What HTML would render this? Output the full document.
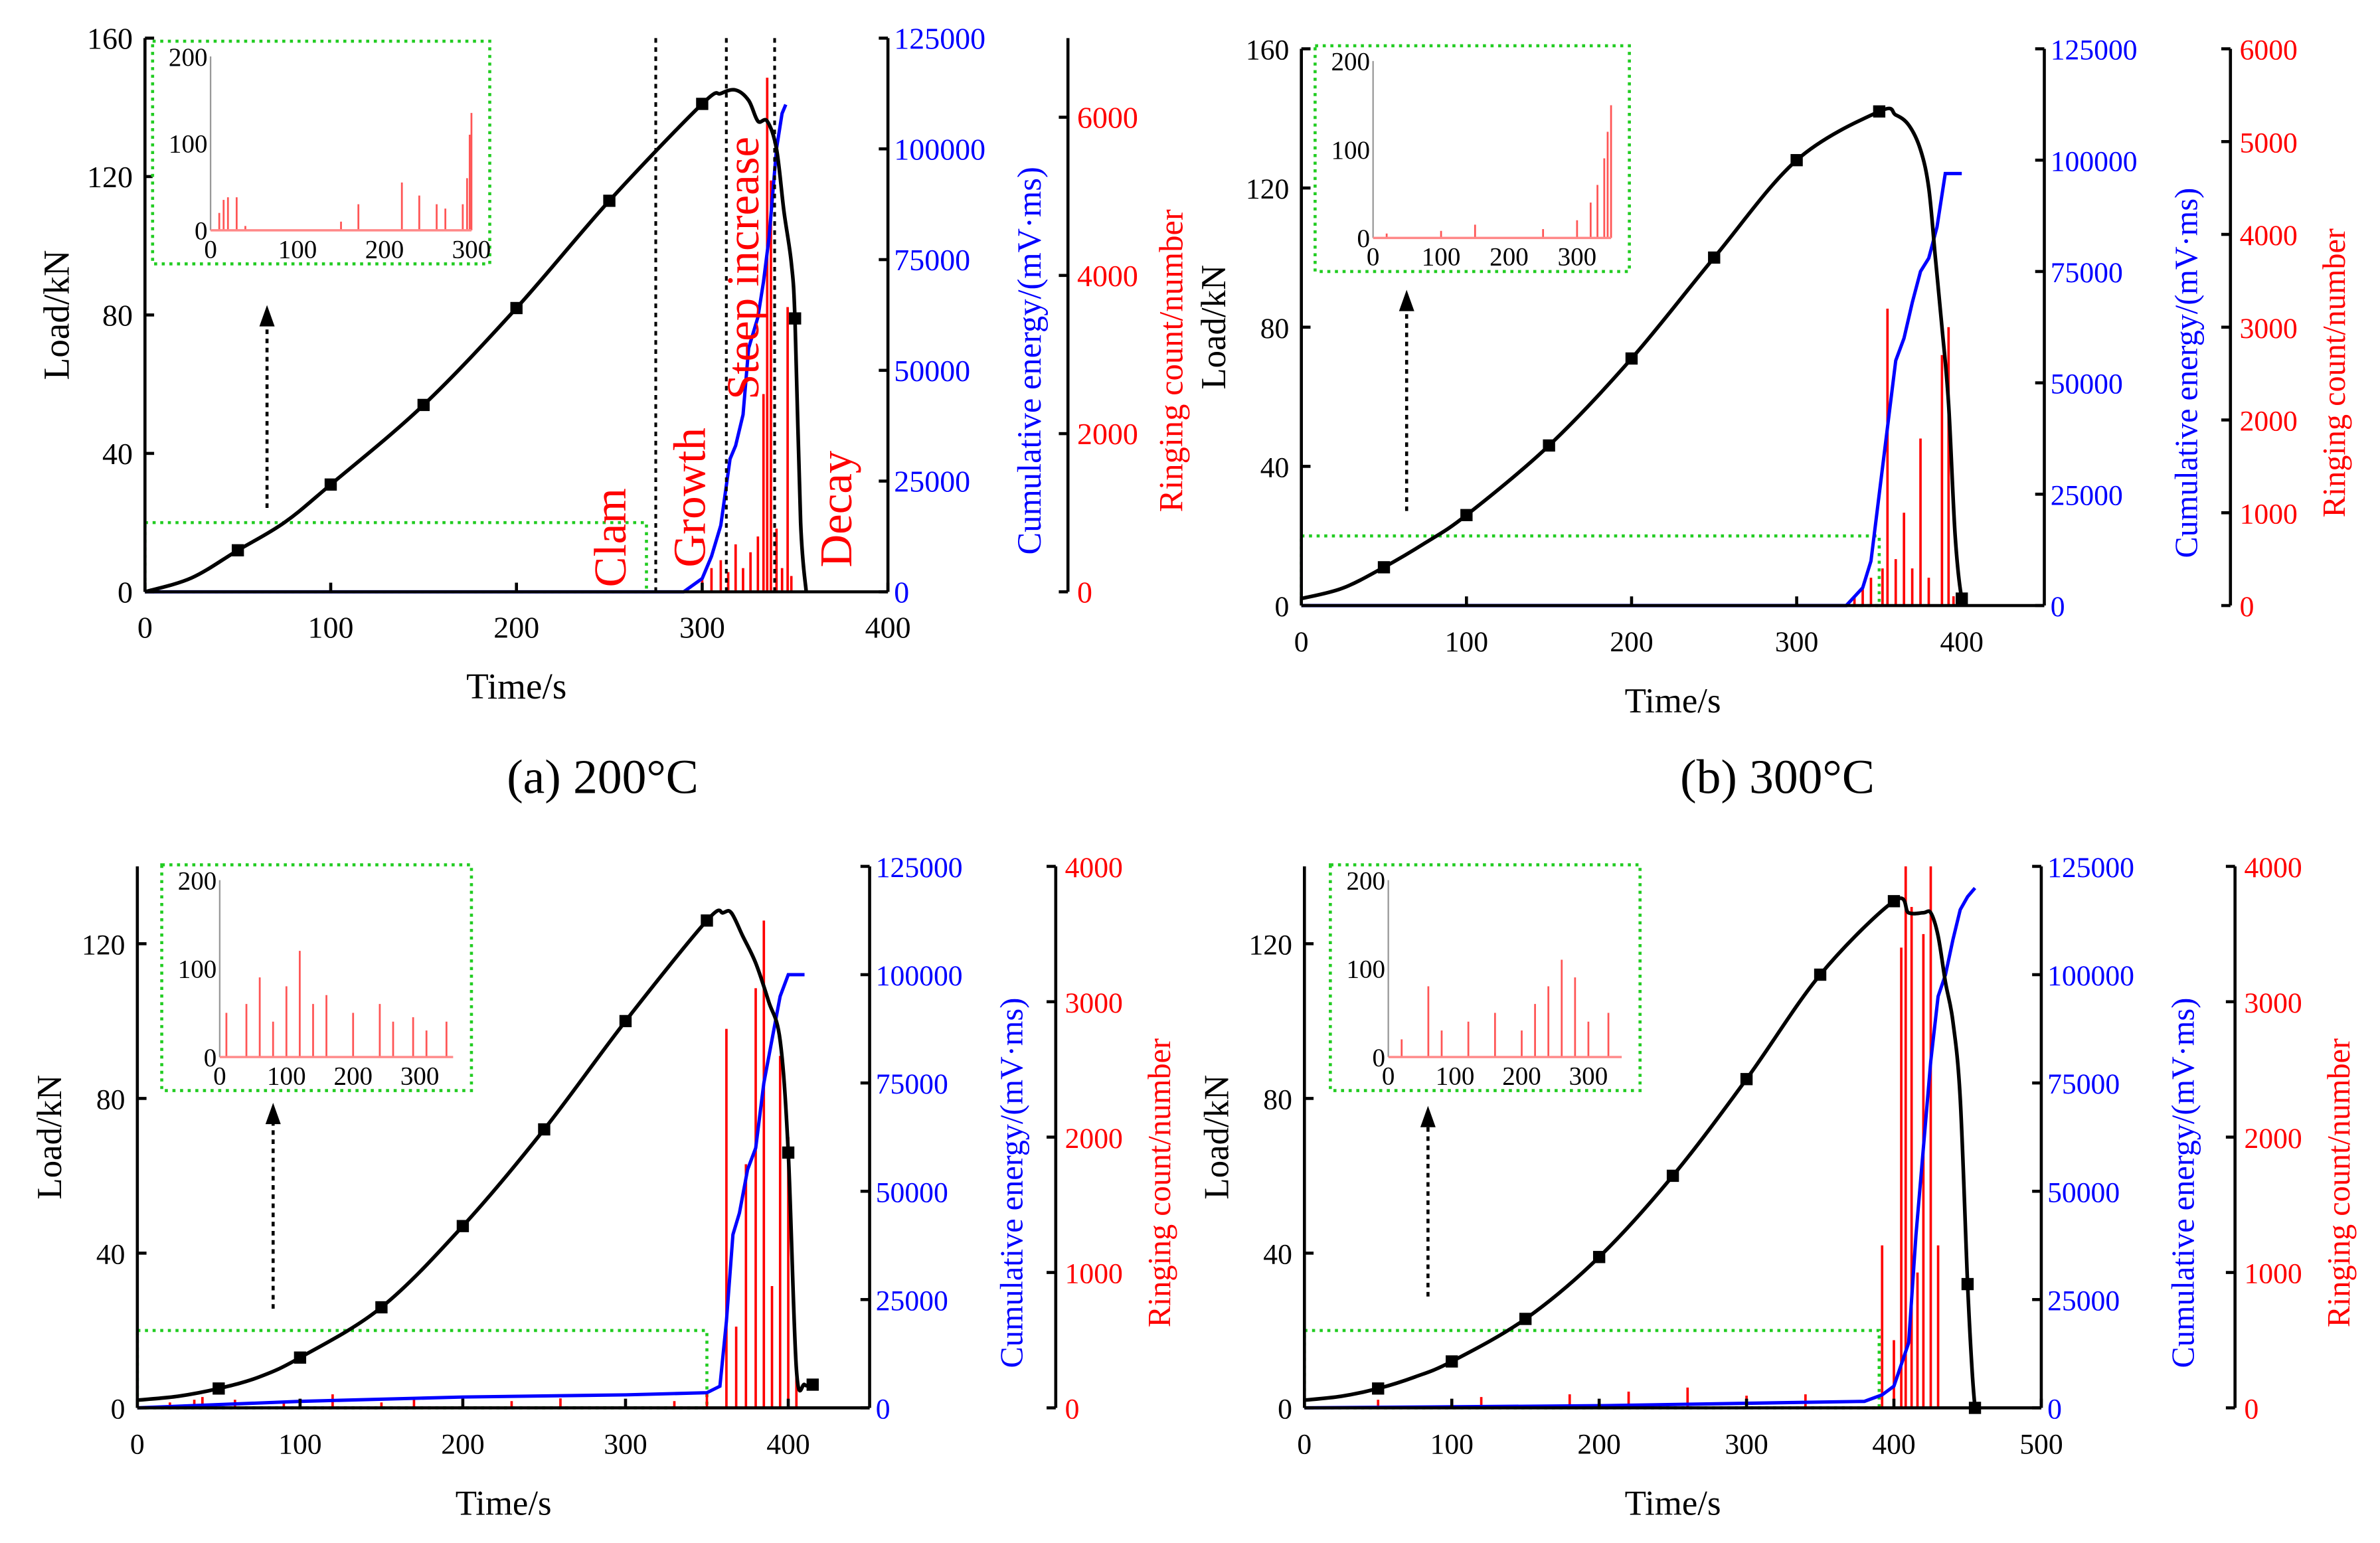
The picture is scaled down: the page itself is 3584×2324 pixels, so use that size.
<!DOCTYPE html>
<html><head><meta charset="utf-8"><style>
html,body{margin:0;padding:0;background:#fff}
svg{display:block}
text{font-family:"Liberation Serif",serif}
</style></head><body>
<svg id="fig" width="3584" height="2324" viewBox="0 0 1560 1011.6" xmlns="http://www.w3.org/2000/svg"></svg>
<script>
// ---------- data ----------
const loadTA=[0,25,50,75,100,150,200,250,300,310,318,325,330,335,340,344,348,350,353,356];
const loadA=[0,4,12,20,31,54,82,113,141,144,145,142,136,136,128,110,95,78,20,0];
const markTA=[50,100,150,200,250,300,350];
const markA=[12,31,54,82,113,141,79];
const enTA=[0,290,300,305,310,315,318,322,325,330,333,336,340,343,345];
const enA=[0,0,3000,8000,15000,30000,33000,40000,55000,62000,70000,80000,100000,108000,110000];
const ringTA=[300,305,310,314,318,322,326,330,333,335,337,340,343,346,348];
const ringA=[150,300,400,250,600,300,500,700,2500,6500,5200,800,300,3600,200];

const loadTB=[0,25,50,75,100,150,200,250,300,350,360,368,375,380,384,388,392,396,400,403];
const loadB=[2,5,11,18,26,46,71,100,128,142,141,138,131,120,100,80,58,20,2,2];
const markTB=[50,100,150,200,250,300,350,400];
const markB=[11,26,46,71,100,128,142,2];
const enTB=[0,330,340,345,350,355,360,365,370,375,380,385,390,395,400];
const enB=[0,0,4000,10000,25000,40000,55000,60000,68000,75000,78000,85000,97000,97000,97000];
const ringTB=[335,340,345,352,355,360,365,370,375,380,388,392,395];
const ringB=[100,200,300,400,3200,500,1000,400,1800,300,2700,3000,100];

const loadTC=[0,25,50,75,100,150,200,250,300,350,360,365,372,380,388,395,400,405,410,415];
const loadC=[2,3,5,8,13,26,47,72,100,126,128,128,122,115,105,95,66,10,6,6];
const markTC=[50,100,150,200,250,300,350,400,415];
const markC=[5,13,26,47,72,100,126,66,6];
const enTC=[0,100,200,300,350,358,362,366,370,375,380,385,390,395,400,405,410];
const enC=[0,1500,2500,3000,3500,5000,20000,40000,45000,55000,60000,75000,85000,95000,100000,100000,100000];
const ringTC=[20,35,40,60,90,120,150,170,200,230,260,300,330,350,362,368,374,380,385,390,395,400,405];
const ringC=[40,60,80,60,50,100,40,60,80,50,70,60,50,100,2800,600,1800,3100,3600,900,2600,2000,300];

const loadTD=[0,25,50,75,100,150,200,250,300,350,400,410,420,425,430,435,440,445,450,453,455];
const loadD=[2,3,5,8,12,23,39,60,85,112,131,128,128,128,122,110,100,80,32,10,0];
const markTD=[50,100,150,200,250,300,350,400,450,455];
const markD=[5,12,23,39,60,85,112,131,32,0];
const enTD=[0,200,380,392,400,410,415,420,425,430,435,440,445,450,455];
const enD=[0,500,1500,3000,5000,15000,40000,60000,80000,95000,100000,108000,115000,118000,120000];
const ringTD=[50,120,180,220,260,300,340,392,400,405,408,412,416,420,425,430];
const ringD=[60,80,100,120,150,90,100,1200,500,3400,4000,3700,1000,3500,4000,1200];

const insetSpikesA=[[10,20],[15,35],[20,38],[30,38],[40,5],[150,10],[170,30],[220,55],[240,40],[260,30],[270,25],[290,30],[295,60],[298,110],[300,135]];
const insetSpikesB=[[20,5],[100,8],[150,15],[250,10],[300,20],[320,40],[330,60],[340,90],[345,120],[350,150]];
const insetSpikesC=[[10,50],[40,60],[60,90],[80,40],[100,80],[120,120],[140,60],[160,70],[200,50],[240,60],[260,40],[290,45],[310,30],[340,40]];
const insetSpikesD=[[20,20],[60,80],[80,30],[120,40],[160,50],[200,30],[220,60],[240,80],[260,110],[280,90],[300,40],[330,50]];

// ---------- drawing ----------
const NS="http://www.w3.org/2000/svg";
const svg=document.getElementById('fig');
function el(tag,attrs,parent,txt){const e=document.createElementNS(NS,tag);for(const k in attrs)e.setAttribute(k,attrs[k]);if(txt!==undefined)e.textContent=txt;(parent||svg).appendChild(e);return e;}
function smooth(pts){let d='M'+pts[0][0]+','+pts[0][1];
  for(let i=0;i<pts.length-1;i++){const p0=pts[i-1]||pts[i],p1=pts[i],p2=pts[i+1],p3=pts[i+2]||p2;
    const c1=[p1[0]+(p2[0]-p0[0])/6,p1[1]+(p2[1]-p0[1])/6],c2=[p2[0]-(p3[0]-p1[0])/6,p2[1]-(p3[1]-p1[1])/6];
    d+=`C${c1[0]},${c1[1]} ${c2[0]},${c2[1]} ${p2[0]},${p2[1]}`;}return d;}

function panel(c){
  const g=el('g',{});
  
  
  const X=t=>c.x0+(t/c.tmax)*(c.x1-c.x0);
  const YL=v=>c.y0-(v/c.lmax)*(c.y0-c.yt);
  const YE=v=>c.y0-(v/125000)*(c.y0-c.yt);
  const YR=v=>c.y0-(v/c.rmax)*(c.y0-c.yt);
  const gb=el('rect',{x:c.x0,y:YL(20),width:X(c.boxT)-c.x0,height:c.y0-YL(20),fill:'none',stroke:'#22cc22','stroke-width':2,'stroke-dasharray':'2,3'},g);
  
  const ax=c.arrowX;
  el('line',{x1:ax,y1:c.arrowY1,x2:ax,y2:c.arrowY2+12,stroke:'#000','stroke-width':2,'stroke-dasharray':'3,3'},g);
  el('path',{d:`M${ax-5},${c.arrowY2+14}L${ax},${c.arrowY2}L${ax+5},${c.arrowY2+14}Z`,fill:'#000'},g);
  c.rT.forEach((t,i)=>{const s=el('line',{x1:X(t),y1:c.y0,x2:X(t),y2:YR(c.rV[i]),stroke:'#ff0000','stroke-width':1.6},g);
    });
  const ep=el('polyline',{points:c.eT.map((t,i)=>X(t)+','+YE(c.eV[i])).join(' '),fill:'none',stroke:'#0000ff','stroke-width':2.2},g);
  
  const lp=el('path',{d:smooth(c.lT.map((t,i)=>[X(t),YL(c.lV[i])])),fill:'none',stroke:'#000','stroke-width':2.4},g);
  
  c.mT.forEach((t,i)=>{const m=el('rect',{x:X(t)-4,y:YL(c.mV[i])-4,width:8,height:8,fill:'#000'},g);
    });
  el('line',{x1:c.x0,y1:c.yt,x2:c.x0,y2:c.y0,stroke:'#000','stroke-width':2},g);
  el('line',{x1:c.x0,y1:c.y0,x2:c.x1,y2:c.y0,stroke:'#000','stroke-width':2},g);
  el('line',{x1:c.x1,y1:c.yt,x2:c.x1,y2:c.y0,stroke:'#000','stroke-width':2},g);
  el('line',{x1:c.rx,y1:c.yt,x2:c.rx,y2:c.y0,stroke:'#000','stroke-width':2},g);
  for(let t=0;t<=c.tmax;t+=100){el('line',{x1:X(t),y1:c.y0,x2:X(t),y2:c.y0-6,stroke:'#000','stroke-width':2},g);
    el('text',{x:X(t),y:c.y0+30,'font-size':c.fs,'text-anchor':'middle'},g,t);}
  for(let v=0;v<=c.lmax;v+=40){el('line',{x1:c.x0,y1:YL(v),x2:c.x0+6,y2:YL(v),stroke:'#000','stroke-width':2},g);
    el('text',{x:c.x0-8,y:YL(v)+7,'font-size':c.fs,'text-anchor':'end'},g,v);}
  for(let v=0;v<=125000;v+=25000){el('line',{x1:c.x1,y1:YE(v),x2:c.x1-6,y2:YE(v),stroke:'#000','stroke-width':2},g);
    el('text',{x:c.x1+4,y:YE(v)+7,'font-size':c.fs,fill:'#0000ff'},g,v);}
  for(let v=0;v<=c.rmax;v+=c.rstep){el('line',{x1:c.rx,y1:YR(v),x2:c.rx-6,y2:YR(v),stroke:'#000','stroke-width':2},g);
    el('text',{x:c.rx+6,y:YR(v)+7,'font-size':c.fs,fill:'#ff0000'},g,v);}
  const xt=el('text',{x:(c.x0+c.x1)/2,y:c.y0+70,'font-size':c.fs+4,'text-anchor':'middle'},g,'Time/s');
  
  const yc=(c.y0+c.yt)/2;
  const yl=el('text',{transform:`translate(${c.x0-50},${yc}) rotate(-90)`,'font-size':c.fs+4,'text-anchor':'middle'},g,'Load/kN');
  
  const ye=el('text',{transform:`translate(${c.x1+100},${yc+30}) rotate(-90)`,'font-size':c.fs+2,'text-anchor':'middle',fill:'#0000ff'},g,'Cumulative energy/(mV·ms)');
  
  const yr=el('text',{transform:`translate(${c.rx+75},${yc+30}) rotate(-90)`,'font-size':c.fs+2,'text-anchor':'middle',fill:'#ff0000'},g,'Ringing count/number');
  
  const ib=el('rect',{x:c.ix,y:c.iy,width:c.iw,height:c.ih,fill:'#fff',stroke:'#22cc22','stroke-width':2,'stroke-dasharray':'2,3'},g);
  
  const px0=c.ix+38,px1=c.ix+c.iw-12,py0=c.iy+c.ih-22,pyt=c.iy+10;
  const IX=t=>px0+t/c.itmax*(px1-px0), IY=v=>py0-v/200*(py0-pyt);
  c.ispk.forEach(s=>{const l=el('line',{x1:IX(s[0]),y1:py0,x2:IX(s[0]),y2:IY(s[1]),stroke:'#ff5555','stroke-width':1.2},g);
    });
  el('line',{x1:px0,y1:pyt,x2:px0,y2:py0,stroke:'#999','stroke-width':1},g);
  el('line',{x1:px0,y1:py0,x2:px1,y2:py0,stroke:'#ff8888','stroke-width':1.5},g);
  [0,100,200].forEach(v=>el('text',{x:px0-2,y:IY(v)+6,'font-size':17,'text-anchor':'end'},g,v));
  for(let t=0;t<=c.itmax;t+=100)el('text',{x:IX(t),y:py0+18,'font-size':17,'text-anchor':'middle'},g,t);
  return {X,YL};
}

const A=panel({name:'panel-a-200C',x0:95,x1:582,tmax:400,y0:388,yt:25,lmax:160,rx:700,rmax:7000,rstep:2000,fs:20,
  lT:loadTA,lV:loadA,mT:markTA,mV:markA,eT:enTA,eV:enA,rT:ringTA,rV:ringA,boxT:270,arrowX:175,arrowY1:333,arrowY2:200,
  ix:100,iy:27,iw:221,ih:146,itmax:300,ispk:insetSpikesA});
panel({name:'panel-b-300C',x0:853,x1:1340,tmax:450,y0:397,yt:32,lmax:160,rx:1462,rmax:6000,rstep:1000,fs:19,
  lT:loadTB,lV:loadB,mT:markTB,mV:markB,eT:enTB,eV:enB,rT:ringTB,rV:ringB,boxT:350,arrowX:922,arrowY1:335,arrowY2:190,
  ix:862,iy:30,iw:206,ih:148,itmax:350,ispk:insetSpikesB});
panel({name:'panel-c',x0:90,x1:570,tmax:450,y0:923,yt:568,lmax:140,rx:692,rmax:4000,rstep:1000,fs:19,
  lT:loadTC,lV:loadC,mT:markTC,mV:markC,eT:enTC,eV:enC,rT:ringTC,rV:ringC,boxT:350,arrowX:179,arrowY1:858,arrowY2:723,
  ix:106,iy:567,iw:203,ih:148,itmax:350,ispk:insetSpikesC});
panel({name:'panel-d',x0:855,x1:1338,tmax:500,y0:923,yt:568,lmax:140,rx:1465,rmax:4000,rstep:1000,fs:19,
  lT:loadTD,lV:loadD,mT:markTD,mV:markD,eT:enTD,eV:enD,rT:ringTD,rV:ringD,boxT:390,arrowX:936,arrowY1:850,arrowY2:725,
  ix:872,iy:567,iw:203,ih:148,itmax:350,ispk:insetSpikesD});

[275,313,339].forEach(t=>{const l=el('line',{x1:A.X(t),y1:25,x2:A.X(t),y2:388,stroke:'#000','stroke-width':1.8,'stroke-dasharray':'3,3'});
  });
[['Clam',410,385],['Growth',462,372],['Steep increase',497,262],['Decay',558,372]].forEach(s=>{
  const t=el('text',{transform:`translate(${s[1]},${s[2]}) rotate(-90)`,'font-size':30,fill:'#ff0000'},svg,s[0]);
  });
const ca=el('text',{x:395,y:520,'font-size':32,'text-anchor':'middle'},svg,'(a)  200°C');

const cb=el('text',{x:1165,y:520,'font-size':32,'text-anchor':'middle'},svg,'(b)  300°C');

</script>
</body></html>
